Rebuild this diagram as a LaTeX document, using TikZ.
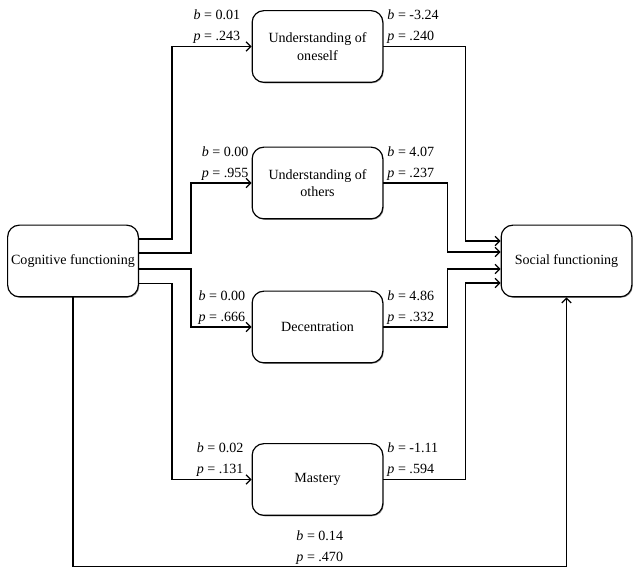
\documentclass[tikz,border=0pt]{standalone}
\usepackage{fontspec}
\setmainfont{Liberation Serif}
\usetikzlibrary{arrows.meta,positioning,shadows}

\begin{document}
\begin{tikzpicture}[x=0.03cm, y=-0.03cm,
  box/.style={rectangle, draw, rounded corners=0.35cm, line width=1pt, fill=white, inner sep=2pt, minimum width=3.92cm, minimum height=2.15cm, align=center, font=\fontsize{12}{15}\selectfont, drop shadow={shadow xshift=0.8pt, shadow yshift=-0.8pt, fill=black!70, opacity=0.6}},
  lbl/.style={inner sep=1pt, align=left, font=\fontsize{12}{18}\selectfont},
  arr/.style={line width=1pt, -{Straight Barb[length=4pt,width=8pt]}}]
  \useasboundingbox (0,0) rectangle (640,573);

  \node[box] (cog) at (73,261) {Cognitive functioning};
  \node[box] (self) at (317.5,46.5) {Understanding of\\oneself};
  \node[box] (others) at (317.5,183) {Understanding of\\others};
  \node[box] (dec) at (317.5,327) {Decentration};
  \node[box] (mast) at (317.5,479.5) {Mastery};
  \node[box] (soc) at (566.5,261) {Social functioning};

  \draw[arr] ([yshift=0.66cm]cog.east) -- ++(33,0) |- (self.west);
  \draw[arr] ([yshift=0.24cm]cog.east) -- ++(52,0) |- (others.west);
  \draw[arr] ([yshift=-0.24cm]cog.east) -- ++(52,0) |- (dec.west);
  \draw[arr] ([yshift=-0.68cm]cog.east) -- ++(33,0) |- (mast.west);

  \draw[arr] (self.east) -- ++(82,0) |- ([yshift=0.6cm]soc.west);
  \draw[arr] (others.east) -- ++(64,0) |- ([yshift=0.27cm]soc.west);
  \draw[arr] (dec.east) -- ++(64,0) |- ([yshift=-0.24cm]soc.west);
  \draw[arr] (mast.east) -- ++(82,0) |- ([yshift=-0.66cm]soc.west);

  \draw[arr] (cog.south) -- ++(0,269) -| (soc.south)
    node[lbl, pos=0.25, above, align=center] (ldirect) {\textit{b} = 0.14\\\textit{p} = .470};

  \node[lbl, anchor=south east] (lself) at ([xshift=-0.3cm, yshift=1pt]self.west) {\textit{b} = 0.01\\\textit{p} = .243};
  \node[lbl, anchor=south east] (lothers) at ([xshift=-0.05cm, yshift=1pt]others.west) {\textit{b} = 0.00\\\textit{p} = .955};
  \node[lbl, anchor=south east] (ldec) at ([xshift=-0.15cm, yshift=1pt]dec.west) {\textit{b} = 0.00\\\textit{p} = .666};
  \node[lbl, anchor=south east] (lmast) at ([xshift=-0.2cm, yshift=1pt]mast.west) {\textit{b} = 0.02\\\textit{p} = .131};

  \node[lbl, anchor=south west] (rself) at ([xshift=0.08cm, yshift=1pt]self.east) {\textit{b} = -3.24\\\textit{p} = .240};
  \node[lbl, anchor=south west] (rothers) at ([xshift=0.08cm, yshift=1pt]others.east) {\textit{b} = 4.07\\\textit{p} = .237};
  \node[lbl, anchor=south west] (rdec) at ([xshift=0.08cm, yshift=1pt]dec.east) {\textit{b} = 4.86\\\textit{p} = .332};
  \node[lbl, anchor=south west] (rmast) at ([xshift=0.08cm, yshift=1pt]mast.east) {\textit{b} = -1.11\\\textit{p} = .594};
\end{tikzpicture}
\end{document}
